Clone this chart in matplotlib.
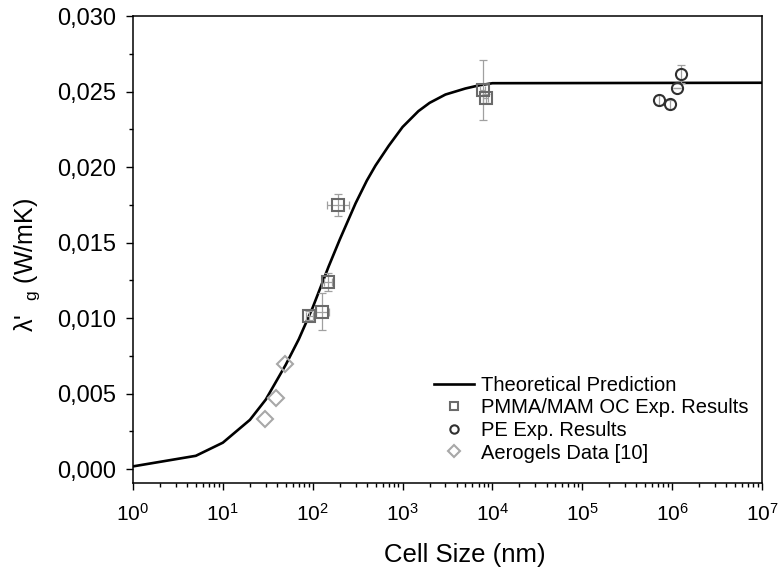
import matplotlib
matplotlib.use("Agg")
import matplotlib.pyplot as plt
import numpy as np
from matplotlib.ticker import LogLocator, MultipleLocator, FuncFormatter, NullFormatter

plt.rcParams['font.family'] = ['Liberation Sans', 'DejaVu Sans']
plt.rcParams['mathtext.fontset'] = 'custom'
plt.rcParams['mathtext.rm'] = 'Liberation Sans'
plt.rcParams['mathtext.it'] = 'Liberation Sans'

# Theoretical prediction
theory_d = [1, 5, 10, 20, 30, 50, 70, 100, 150, 200, 300, 400, 500, 700, 1000, 1500, 2000,
            3000, 5000, 7000, 10000, 1e7]
theory_k = [0.00018, 0.00088, 0.00175, 0.00326, 0.00460, 0.00690, 0.00860, 0.01070, 0.01340,
            0.01520, 0.01760, 0.01910, 0.02010, 0.02140, 0.02265, 0.02370, 0.02425,
            0.02480, 0.02520, 0.02540, 0.02555, 0.02558]

# PMMA/MAM OC experimental results
pmma_d = [92, 128, 149, 193, 7800, 8400]
pmma_k = [0.01016, 0.01043, 0.01237, 0.01749, 0.02510, 0.02455]
pmma_yerr = [0.0003, 0.0012, 0.0006, 0.0007, 0.0020, 0.0003]
pmma_xerr_lo = [8, 20, 15, 47, 500, 500]
pmma_xerr_hi = [8, 25, 15, 61, 500, 500]

# PE experimental results
pe_d = [7.1e5, 9.4e5, 1.12e6, 1.24e6]
pe_k = [0.02444, 0.02417, 0.02521, 0.02614]
pe_yerr = [0.0003, 0.0003, 0.0, 0.0006]

# Aerogels data [10]
aero_d = [29.4, 39, 49]
aero_k = [0.00331, 0.00474, 0.00697]

fig = plt.figure(figsize=(7.79, 5.70), dpi=100)
ax = fig.add_axes([133/779, 1-483/570, (762-133)/779, (483-16)/570])

ax.plot(theory_d, theory_k, color='black', lw=1.9, label='Theoretical Prediction', zorder=2)

ax.errorbar(pmma_d, pmma_k, yerr=pmma_yerr, xerr=[pmma_xerr_lo, pmma_xerr_hi], fmt='none',
            ecolor='#a0a0a0', elinewidth=0.9, capsize=3, capthick=0.9, zorder=3)
ax.plot(pmma_d, pmma_k, ls='none', marker='s', ms=8, mfc='none', mec='#6a6a6a', mew=1.5,
        label='PMMA/MAM OC Exp. Results', zorder=4)

ax.errorbar(pe_d, pe_k, yerr=pe_yerr, fmt='none', ecolor='#a0a0a0', elinewidth=0.9,
            capsize=3, capthick=0.9, zorder=3)
ax.plot(pe_d, pe_k, ls='none', marker='o', ms=8, mfc='none', mec='#303030', mew=1.5,
        label='PE Exp. Results', zorder=4)

ax.plot(aero_d, aero_k, ls='none', marker='D', ms=8, mfc='none', mec='#a8a8a8', mew=1.5,
        label='Aerogels Data [10]', zorder=4)

ax.set_xscale('log')
ax.set_xlim(1, 1e7)
ax.set_ylim(-0.00092, 0.030)
ax.xaxis.set_major_locator(LogLocator(base=10, numticks=20))
ax.xaxis.set_minor_locator(LogLocator(base=10, subs=np.arange(2, 10), numticks=100))
ax.xaxis.set_minor_formatter(NullFormatter())
ax.xaxis.set_major_formatter(FuncFormatter(lambda v, p: r'$\mathregular{10^{%d}}$' % round(np.log10(v))))
ax.yaxis.set_major_locator(MultipleLocator(0.005))
ax.yaxis.set_minor_locator(MultipleLocator(0.0025))
ax.yaxis.set_major_formatter(FuncFormatter(lambda v, p: ('%.3f' % v).replace('.', ',')))

ax.tick_params(which='both', direction='out', top=False, right=False, width=1.0)
ax.tick_params(which='major', length=5)
ax.tick_params(which='minor', length=3)
ax.tick_params(axis='x', which='major', labelsize=15, pad=9)
ax.tick_params(axis='y', which='major', labelsize=17, pad=7)
for s in ax.spines.values():
    s.set_linewidth(1.1)

ax.set_xlabel('Cell Size (nm)', fontsize=18.5)
ax.set_ylabel(r"λ'  $_{\mathregular{g}}$ (W/mK)", fontsize=18)
ax.xaxis.set_label_coords((465 - 133) / 629, -(543 - 483) / 467, transform=ax.transAxes)
ax.yaxis.set_label_coords(-(133 - 27) / 629, (483 - 265) / 467, transform=ax.transAxes)
ax.xaxis.label.set_va('top')
ax.yaxis.label.set_va('center')

leg = ax.legend(loc='lower right', frameon=False, fontsize=14.5, handlelength=2.0,
                labelspacing=0.18, handletextpad=0.35, markerscale=0.75,
                bbox_to_anchor=(1.008, 0.005))

fig.savefig('out.png', dpi=100)
